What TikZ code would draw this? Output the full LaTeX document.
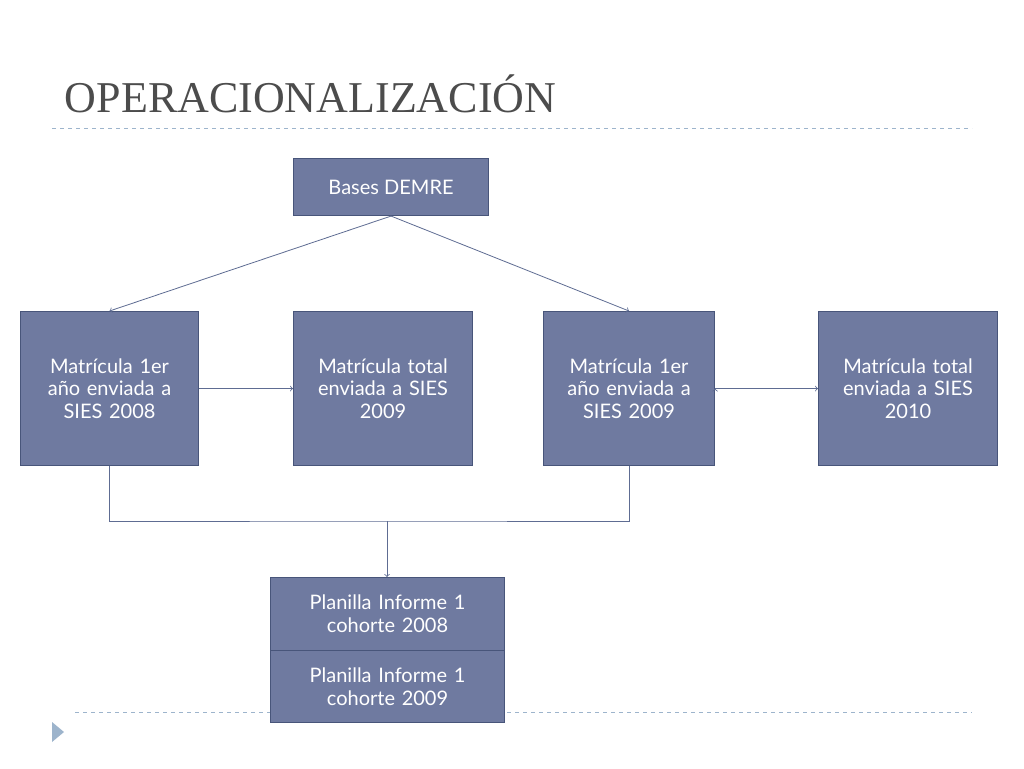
\documentclass[tikz,border=0pt]{standalone}
\usepackage{fontspec}
\setmainfont{Lato}
\newfontfamily\titlefont{Liberation Serif}
\usetikzlibrary{arrows,positioning}
\definecolor{boxfill}{HTML}{6F7AA0}
\definecolor{boxline}{HTML}{48557A}
\definecolor{arrowcol}{HTML}{5E6C92}
\definecolor{rulecol}{HTML}{9DB4CC}
\begin{document}
\begin{tikzpicture}[x=0.75pt,y=-0.75pt,->,>=to,thick,
    main node/.style={rectangle,draw=boxline,fill=boxfill,text=white,
      align=center,font=\fontsize{15}{17}\selectfont,inner sep=2pt,anchor=north west}]
  \useasboundingbox (0,0) rectangle (1024,768);
  \fill[white] (0,0) rectangle (1024,768);

  \node[anchor=base west,text=black!70,font=\titlefont\fontsize{33}{36}\selectfont] (title) at (60,112) {OPERACIONALIZACIÓN};
  \draw[-,rulecol,dashed,semithick] (52,128) -- (972,128);
  \draw[-,rulecol,dashed,semithick] (75,712) -- (972,712);
  \fill[rulecol] (52,722) -- (64,732) -- (52,742) -- cycle;

  \node[main node,minimum width=195*0.75pt,minimum height=57*0.75pt] (1) at (293,158) {Bases DEMRE};
  \node[main node,minimum width=178*0.75pt,minimum height=154*0.75pt,text width=125pt] (2) at (20,311) {Matrícula 1er\\año enviada a\\SIES 2008};
  \node[main node,minimum width=179*0.75pt,minimum height=154*0.75pt,text width=125pt] (3) at (293,311) {Matrícula total\\enviada a SIES\\2009};
  \node[main node,minimum width=171*0.75pt,minimum height=154*0.75pt,text width=120pt] (4) at (543,311) {Matrícula 1er\\año enviada a\\SIES 2009};
  \node[main node,minimum width=179*0.75pt,minimum height=154*0.75pt,text width=125pt] (5) at (818,311) {Matrícula total\\enviada a SIES\\2010};
  \node[main node,minimum width=234*0.75pt,minimum height=73*0.75pt,text width=170pt] (6) at (270,577) {Planilla Informe 1\\cohorte 2008};
  \node[main node,minimum width=234*0.75pt,minimum height=72*0.75pt,text width=170pt] (7) at (270,650) {Planilla Informe 1\\cohorte 2009};

  \coordinate (j) at (387,521);
  \path[draw=arrowcol,semithick]
    (1.south) edge (2.north)
    (1.south) edge (4.north)
    (2.east) edge (3.west)
    (4.east) edge (5.west);
  \draw[-,arrowcol,semithick] (2.south) |- (j) -| (4.south);
  \draw[arrowcol,semithick] (j) -- (j |- 6.north);
\end{tikzpicture}
\end{document}
